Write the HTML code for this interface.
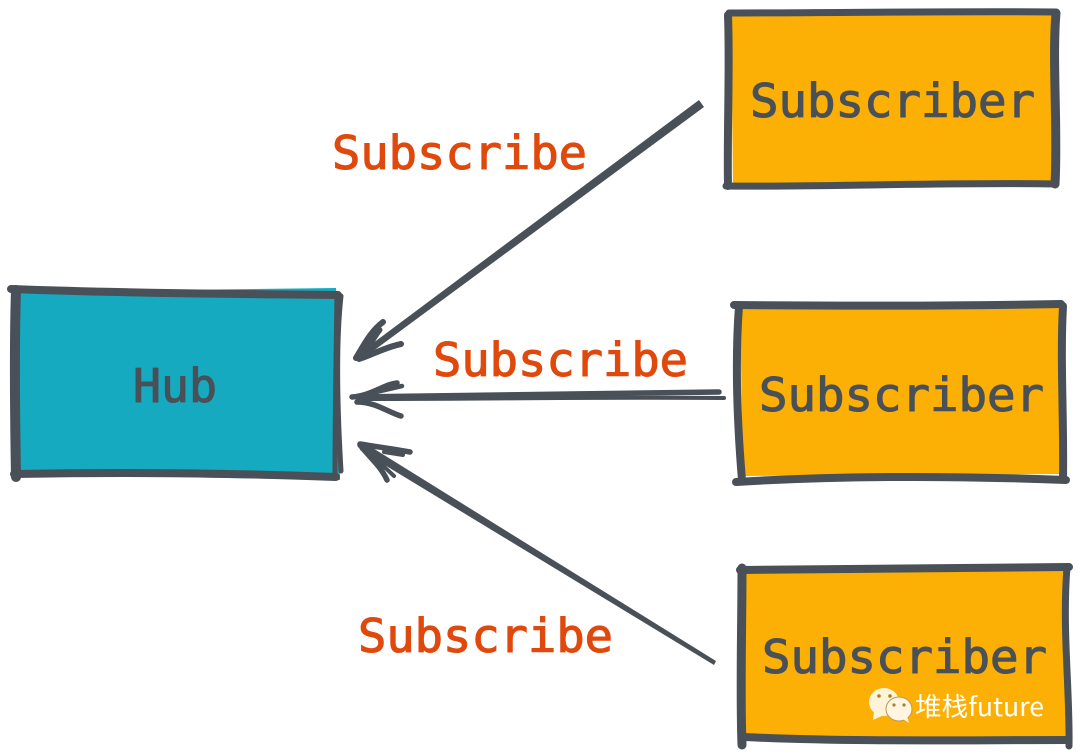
<!DOCTYPE html>
<html><head><meta charset="utf-8">
<style>html,body{margin:0;padding:0;background:#fff}svg{display:block}
.m{font-family:"DejaVu Sans Mono","Liberation Mono",monospace;font-size:46px;stroke-width:1.1px}
.d{fill:#495057;stroke:#495057}.o{fill:#e0490d;stroke:#e0490d}
</style></head><body>
<svg width="1080" height="754" viewBox="0 0 1080 754" xmlns="http://www.w3.org/2000/svg">
<rect width="1080" height="754" fill="#fff"/>
<!-- Hub -->
<polygon points="14,292 336,288 340,480 11,474" fill="#15aabf"/>
<g fill="none" stroke="#495057" stroke-linecap="round" stroke-linejoin="round">
<path d="M11,289 C120,293 230,294 338,295" stroke-width="8"/>
<path d="M16,290 C14,350 15,420 16,477" stroke-width="10"/>
<path d="M14,474 C120,472 230,473 336,477" stroke-width="8"/>
<path d="M341,296 C335,350 338,420 341,471" stroke-width="5"/>
<path d="M337,294 C336,360 335,420 335,477" stroke-width="5"/>
</g>
<!-- Subscriber 1 -->
<polygon points="731,14 1052,14 1054,182 733,185" fill="#fcb005"/>
<g fill="none" stroke="#495057" stroke-linecap="round" stroke-linejoin="round">
<path d="M729,13 C830,13 950,11 1056,12" stroke-width="7"/>
<path d="M728,15 C730,70 727,130 728,186" stroke-width="8"/>
<path d="M726,186 C830,187 950,182 1056,184" stroke-width="7"/>
<path d="M1056,13 C1052,60 1058,130 1055,184" stroke-width="9"/>
</g>
<!-- Subscriber 2 -->
<polygon points="740,308 1060,308 1062,474 743,476" fill="#fcb005"/>
<g fill="none" stroke="#495057" stroke-linecap="round" stroke-linejoin="round">
<path d="M734,305 C840,306 950,306 1061,304" stroke-width="8"/>
<path d="M739,306 C735,360 737,420 742,480" stroke-width="8"/>
<path d="M736,482 C850,475 960,476 1066,480" stroke-width="8"/>
<path d="M1063,306 C1060,360 1064,420 1063,478" stroke-width="8"/>
</g>
<!-- Subscriber 3 -->
<polygon points="744,572 1064,570 1066,744 746,739" fill="#fcb005"/>
<g fill="none" stroke="#495057" stroke-linecap="round" stroke-linejoin="round">
<path d="M740,570 C850,569 960,568 1069,567" stroke-width="8"/>
<path d="M742,568 C742,630 740,690 742,745" stroke-width="9"/>
<path d="M744,737 C850,742 960,740 1068,740" stroke-width="8"/>
<path d="M1067,567 C1062,630 1070,690 1069,746" stroke-width="7"/>
</g>
<!-- Arrows -->
<polygon points="699,100 704,107 361,360 357,355" fill="#495057"/>
<g fill="none" stroke="#495057" stroke-linecap="round" stroke-linejoin="round">
<path d="M356,358 C364,345 370,332 383,322" stroke-width="6"/>
<path d="M359,359 C374,354 386,347 401,344" stroke-width="6"/>
<path d="M366,351 C372,342 376,335 380,330" stroke-width="5"/>
<path d="M719,392 C600,393 480,396 358,397" stroke-width="5.5"/>
<path d="M724,398 C600,397 480,399 358,399" stroke-width="4"/>
<path d="M352,397 C370,396 385,384 397,383" stroke-width="5.5"/>
<path d="M357,402 C375,402 388,412 401,416" stroke-width="5.5"/>
<path d="M372,393 L402,386" stroke-width="4.5"/>
<path d="M360,444 C378,447 394,449 410,452" stroke-width="5.5"/>
<path d="M360,445 C370,458 380,465 387,480" stroke-width="5.5"/>
<path d="M384,452 L403,455" stroke-width="4"/>
<path d="M378,461 L394,476" stroke-width="4"/>
</g>
<polygon points="363,442 716,661 714,665 360,450" fill="#495057"/>
<!-- Labels -->
<text class="m o" x="332" y="169" textLength="255" lengthAdjust="spacingAndGlyphs">Subscribe</text>
<text class="m o" x="433" y="376" textLength="255" lengthAdjust="spacingAndGlyphs">Subscribe</text>
<text class="m o" x="358" y="652" textLength="255" lengthAdjust="spacingAndGlyphs">Subscribe</text>
<text class="m d" x="133" y="402" textLength="84" lengthAdjust="spacingAndGlyphs">Hub</text>
<text class="m d" x="750" y="117" textLength="285" lengthAdjust="spacingAndGlyphs">Subscriber</text>
<text class="m d" x="759" y="411" textLength="285" lengthAdjust="spacingAndGlyphs">Subscriber</text>
<text class="m d" x="762" y="673" textLength="285" lengthAdjust="spacingAndGlyphs">Subscriber</text>
<!-- Watermark -->
<g>
<ellipse cx="884" cy="702" rx="15" ry="14" fill="#fdf3d6"/>
<polygon points="874,712 873,720 884,715" fill="#fdf3d6"/>
<ellipse cx="899" cy="709" rx="13" ry="12" fill="#fff5e0" stroke="#b9985a" stroke-width="1"/>
<polygon points="903,719 909,723 907,716" fill="#fff5e0"/>
<circle cx="879" cy="696" r="1.8" fill="#a8802f"/><circle cx="890" cy="696" r="1.8" fill="#a8802f"/>
<circle cx="894" cy="705" r="1.6" fill="#a8802f"/><circle cx="904" cy="705" r="1.6" fill="#a8802f"/>
<text x="915" y="716" font-family="'Noto Sans CJK SC','Liberation Sans',sans-serif" font-size="26" fill="#fff" textLength="129" lengthAdjust="spacingAndGlyphs">堆栈future</text>
</g>
</svg>
</body></html>
